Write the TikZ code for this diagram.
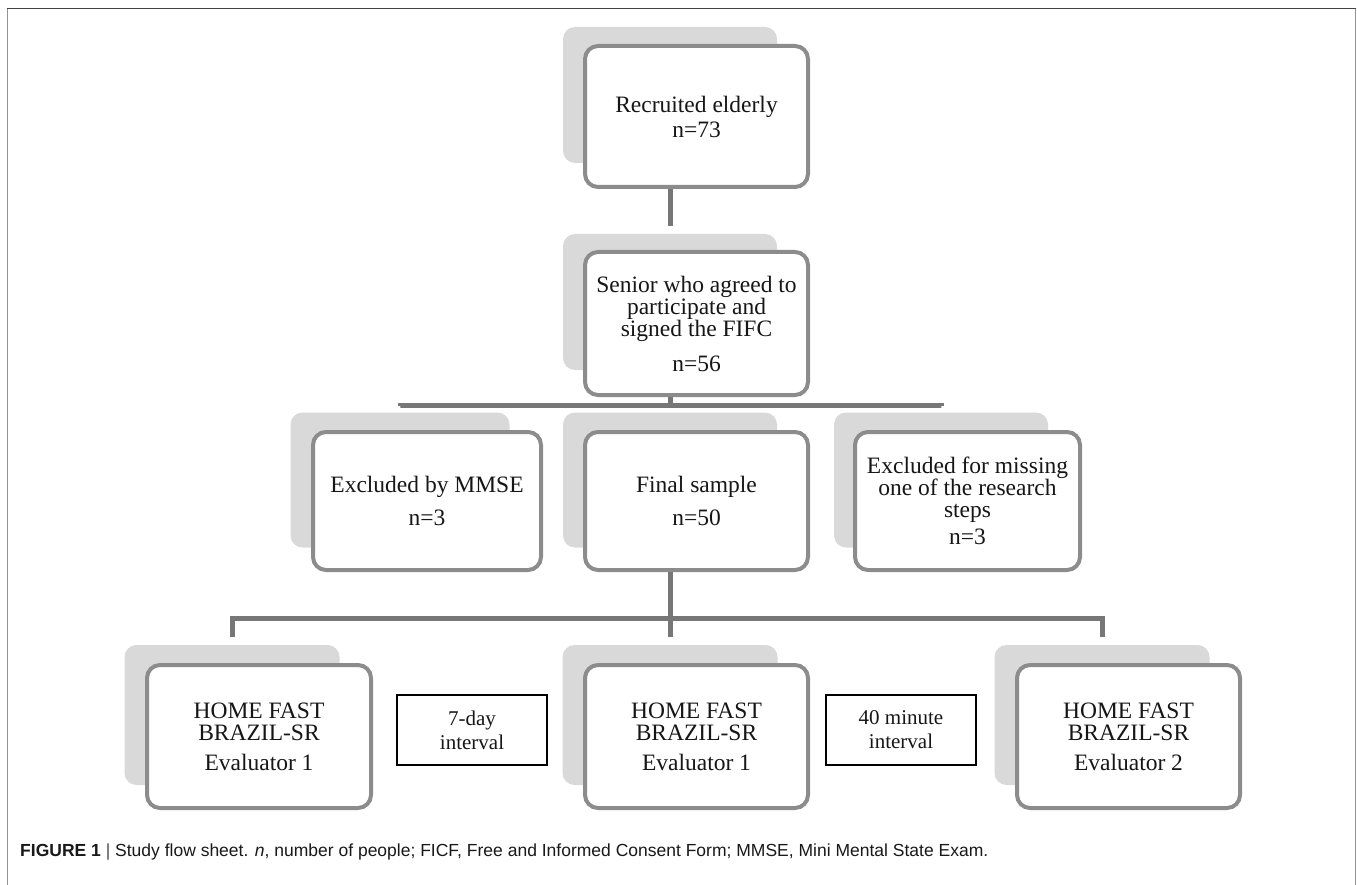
\documentclass[tikz,border=0pt]{standalone}
\usepackage{fontspec}
\setmainfont{Liberation Serif}
\newfontfamily\capfont{Liberation Sans}
\begin{document}
\begin{tikzpicture}[x=1pt,y=-1pt,
  front/.style={draw=boxgray, line width=4pt, rounded corners=13pt, fill=white,
    align=center, text=txt, font=\fontsize{23.5}{23}\selectfont, inner sep=0pt},
  shade/.style={fill=shadegray, rounded corners=12pt, inner sep=0pt,
    minimum width=214pt, minimum height=136pt},
  gap/.style={draw=black, line width=1.3pt, fill=white, align=center, text=txt,
    font=\fontsize{21}{24}\selectfont, minimum width=150pt, minimum height=70pt, inner sep=0pt},
  conn/.style={draw=linegray, line width=5pt}
]
\definecolor{boxgray}{HTML}{8C8C8C}
\definecolor{shadegray}{HTML}{D9D9D9}
\definecolor{linegray}{HTML}{777777}
\definecolor{txt}{HTML}{161616}
\useasboundingbox (0,0) rectangle (1357,885);
\fill[white] (0,0) rectangle (1357,885);
% frame
\draw[color=gray!85, line width=1.6pt] (7.5,886) -- (7.5,8.5);
\draw[color=gray!85, line width=1.6pt] (1355.5,886) -- (1355.5,8.5);
\draw[color=black!75, line width=1.6pt] (7,8.5) -- (1356,8.5);

% row 1
\node[shade] (b1s) at (670,95) {};
\node[front, minimum width=223pt, minimum height=141pt] (b1) at (696.5,116.5)
  {Recruited elderly\\[2pt]n=73};
% row 2
\node[shade] (b2s) at (670,302) {};
\node[front, minimum width=223pt, minimum height=143pt] (b2) at (696.5,323.5)
  {Senior who agreed to\\[-1pt]participate and\\[-1pt]signed the FIFC\\[12pt]n=56};
% row 3
\node[shade, minimum width=219pt, minimum height=135pt] (r3as) at (400,480) {};
\node[front, minimum width=228pt, minimum height=138pt] (r3a) at (427,501)
  {Excluded by MMSE\\[10pt]n=3};
\node[shade, minimum height=135pt] (r3bs) at (670,480) {};
\node[front, minimum width=223pt, minimum height=138pt] (r3b) at (696.5,501)
  {Final sample\\[10pt]n=50};
\node[shade, minimum height=135pt] (r3cs) at (941,480) {};
\node[front, minimum width=225pt, minimum height=138pt] (r3c) at (967.5,501)
  {Excluded for missing\\[-1pt]one of the research\\[-1pt]steps\\[4pt]n=3};
% row 4
\node[shade, minimum width=215pt, minimum height=140pt] (r4as) at (232,715) {};
\node[front, minimum width=224pt, minimum height=143pt] (r4a) at (259,736.5)
  {HOME FAST\\[-1pt]BRAZIL-SR\\[7pt]Evaluator 1};
\node[shade, minimum width=215pt, minimum height=140pt] (r4bs) at (670,715) {};
\node[front, minimum width=223pt, minimum height=143pt] (r4b) at (696.5,736.5)
  {HOME FAST\\[-1pt]BRAZIL-SR\\[7pt]Evaluator 1};
\node[shade, minimum width=215pt, minimum height=140pt] (r4cs) at (1102,715) {};
\node[front, minimum width=223pt, minimum height=143pt] (r4c) at (1128.5,736.5)
  {HOME FAST\\[-1pt]BRAZIL-SR\\[7pt]Evaluator 2};
% interval boxes
\node[gap] (g1) at (472,730) {7-day\\interval};
\node[gap] (g2) at (901,730) {40 minute\\interval};

% connectors
\coordinate (h1) at (0,405);
\coordinate (h2) at (0,618);
\draw[conn] (b1.south -| b2s.north) -- ([yshift=8pt]b2s.north);
\draw[conn] (b2.south -| b2s.north) -- (b2s.north |- h1);
\draw[conn] ([yshift=7pt]r3as.north) |- (h1 -| r3cs.north) -- ([yshift=7pt]r3cs.north);
\draw[conn] (b2s.north |- h1) -- ([yshift=7pt]r3bs.north);
\draw[conn] (r3b.south -| r3bs.north) -- (r3bs.north |- h2);
\draw[conn] ([yshift=8pt]r4as.north) |- (h2 -| r4cs.north) -- ([yshift=8pt]r4cs.north);
\draw[conn] (r4bs.north |- h2) -- ([yshift=8pt]r4bs.north);

% caption
\node[anchor=west, inner sep=0pt, text=black!90, font=\capfont\fontsize{17.5}{19}\selectfont] (cap) at (20,852)
  {\textbf{FIGURE 1} {\color{black!70}|} Study flow sheet. \textit{n}, number of people; FICF, Free and Informed Consent Form; MMSE, Mini Mental State Exam.};
\end{tikzpicture}
\end{document}
